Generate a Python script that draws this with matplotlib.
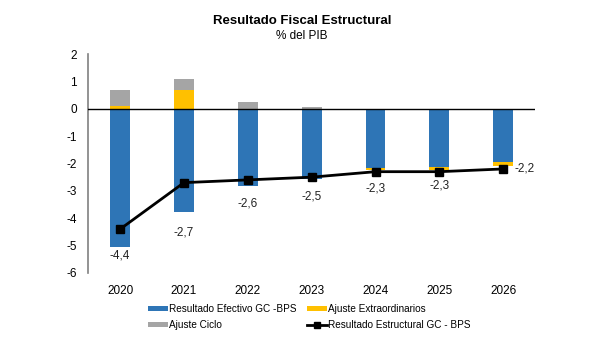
import matplotlib.pyplot as plt
import numpy as np

plt.rcParams['font.family'] = ['Liberation Sans', 'DejaVu Sans']

years = ['2020', '2021', '2022', '2023', '2024', '2025', '2026']
efectivo = [-5.07, -3.77, -2.83, -2.55, -2.17, -2.13, -1.95]
extraordinarios = [0.10, 0.67, 0.0, 0.0, -0.08, -0.10, -0.15]
ciclo = [0.57, 0.40, 0.23, 0.07, 0.0, 0.0, 0.0]
estructural = [-4.4, -2.7, -2.6, -2.5, -2.3, -2.3, -2.2]
etiquetas = ['-4,4', '-2,7', '-2,6', '-2,5', '-2,3', '-2,3', '-2,2']

azul = '#2E75B6'
amarillo = '#FFC000'
gris = '#A5A5A5'

fig = plt.figure(figsize=(6.04, 3.42), dpi=100)
ax = fig.add_axes([0.146, 0.202, 0.74, 0.640])

x = np.arange(len(years))
w = 0.31

ef = np.array(efectivo)
ex = np.array(extraordinarios)
ci = np.array(ciclo)

# apilado: positivos hacia arriba, negativos hacia abajo
pos_base = np.where(ef > 0, ef, 0.0)
neg_base = np.where(ef < 0, ef, 0.0)

b1 = ax.bar(x, ef, w, color=azul, label='Resultado Efectivo GC -BPS', zorder=2)
ex_bottom = np.where(ex >= 0, pos_base, neg_base)
b2 = ax.bar(x, ex, w, bottom=ex_bottom, color=amarillo, label='Ajuste Extraordinarios', zorder=2)
pos_base = pos_base + np.where(ex > 0, ex, 0)
neg_base = neg_base + np.where(ex < 0, ex, 0)
ci_bottom = np.where(ci >= 0, pos_base, neg_base)
b3 = ax.bar(x, ci, w, bottom=ci_bottom, color=gris, label='Ajuste Ciclo', zorder=2)

l1, = ax.plot(x, estructural, color='black', lw=2, marker='s', markersize=6,
              label='Resultado Estructural GC - BPS', zorder=4)

# etiquetas del resultado estructural
offsets = [(0, -19), (0, -36), (0, -17), (0, -14), (0, -12), (0, -10), (8, 0)]
for i, (lab, off) in enumerate(zip(etiquetas, offsets)):
    ha = 'center' if off[0] == 0 else 'left'
    ax.annotate(lab, (x[i], estructural[i]), xytext=off, textcoords='offset points',
                ha=ha, va='center', fontsize=8.5, color='#222222')

ax.axhline(0, color='black', lw=1, zorder=3)

ax.set_xlim(-0.5, 6.5)
ax.set_ylim(-6, 2)
ax.set_yticks(np.arange(-6, 3, 1))
ax.set_yticklabels([str(v) for v in range(-6, 3)])
ax.set_xticks(x)
ax.set_xticklabels(years)

for s in ['top', 'right', 'bottom']:
    ax.spines[s].set_visible(False)
ax.spines['left'].set_color('#808080')
ax.spines['left'].set_linewidth(1.2)
ax.tick_params(axis='y', length=0, labelsize=8.5, pad=8)
ax.tick_params(axis='x', length=0, labelsize=8.5, pad=9)

fig.text(0.5, 0.940, 'Resultado Fiscal Estructural', ha='center', va='center',
         fontsize=9.5, fontweight='bold')
fig.text(0.5, 0.895, '% del PIB', ha='center', va='center', fontsize=8.5)

leg = ax.legend([b1, b3, b2, l1],
                ['Resultado Efectivo GC -BPS', 'Ajuste Ciclo', 'Ajuste Extraordinarios',
                 'Resultado Estructural GC - BPS'],
                loc='upper left', bbox_to_anchor=(0.125, -0.125), ncol=2, frameon=False,
                fontsize=7.2, handlelength=1.95, handleheight=0.45, columnspacing=1.1,
                labelspacing=0.55, handletextpad=0.1, borderaxespad=0, markerscale=0.8)

fig.savefig('out.png', dpi=100)
